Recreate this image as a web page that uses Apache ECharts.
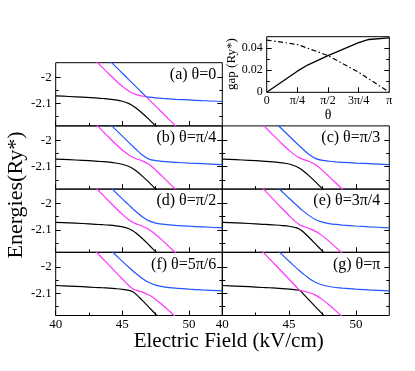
<!DOCTYPE html>
<html><head><meta charset="utf-8">
<script src="https://cdn.jsdelivr.net/npm/echarts@6/dist/echarts.min.js"></script>
<style>html,body{margin:0;padding:0;background:#fff}#c{width:415px;height:371px}</style>
</head><body><div id="c"></div>
<script>
// ---------- data ----------
const fieldTicks = [40, 45, 50];
const fieldMinorTicks = [42.5, 47.5];
const energyTicks = [-2.1, -2];
const energyMinorTicks = [-2.15, -2.05];
const panelTitles = ['(a) θ=0', '(b) θ=π/4', '(c) θ=π/3', '(d) θ=π/2', '(e) θ=3π/4', '(f) θ=5π/6', '(g) θ=π'];

const blackA = [[40,-2.071],[41,-2.0733],[42,-2.0757],[43,-2.0786],[43.5,-2.0809],[44,-2.0832],[44.5,-2.0864],[45,-2.0915],[45.5,-2.1006],[45.75,-2.1075],[46,-2.116],[46.5,-2.1369],[47,-2.1604],[47.5,-2.1853],[48,-2.2107]];
const blackB = [[40,-2.071],[41,-2.0733],[42,-2.0757],[43,-2.0786],[43.5,-2.0806],[44,-2.0828],[44.5,-2.0858],[45,-2.0905],[45.5,-2.0992],[45.75,-2.1059],[46,-2.1145],[46.5,-2.1356],[47,-2.1594],[47.5,-2.1845],[48,-2.209]];
const blackC = [[40,-2.071],[41,-2.0733],[42,-2.0757],[43,-2.0786],[43.5,-2.0804],[44,-2.0825],[44.5,-2.0853],[45,-2.0898],[45.5,-2.0981],[45.75,-2.1046],[46,-2.1134],[46.5,-2.1346],[47,-2.1587],[47.5,-2.1839],[48,-2.2085]];
const blackD = [[40,-2.071],[41,-2.0733],[42,-2.0757],[43,-2.0786],[43.5,-2.0802],[44,-2.082],[44.5,-2.0845],[45,-2.0883],[45.5,-2.0957],[45.75,-2.102],[46,-2.1107],[46.5,-2.1326],[47,-2.1572],[47.5,-2.1827],[48,-2.208]];
const blackE = [[40,-2.071],[41,-2.0733],[42,-2.0757],[43,-2.0786],[43.5,-2.0799],[44,-2.0814],[44.5,-2.0834],[45,-2.0861],[45.5,-2.091],[45.75,-2.0962],[46,-2.1051],[46.5,-2.1289],[47,-2.1546],[47.5,-2.1807],[48,-2.207]];
const blackF = [[40,-2.071],[41,-2.0733],[42,-2.0757],[43,-2.0786],[43.5,-2.0797],[44,-2.0813],[44.5,-2.0832],[45,-2.0856],[45.5,-2.0894],[45.75,-2.0938],[46,-2.1029],[46.5,-2.1278],[47,-2.1539],[47.5,-2.1802],[48,-2.2065]];
const blackG = [[40,-2.071],[41,-2.0733],[42,-2.0757],[43,-2.0786],[43.5,-2.0796],[44,-2.0811],[44.5,-2.0829],[45,-2.085],[45.5,-2.0877],[45.8,-2.0897],[46,-2.1003],[46.5,-2.1268],[47,-2.1533],[47.5,-2.1798],[48,-2.2063]];

const magentaA = [[42.5,-1.9115],[43,-1.9373],[43.5,-1.9629],[44,-1.9881],[44.5,-2.0124],[45,-2.0348],[45.5,-2.0532],[45.75,-2.06],[46,-2.0652],[46.5,-2.0719],[46.78,-2.074],[47,-2.085],[47.5,-2.11],[48,-2.135],[48.5,-2.16],[49,-2.185],[49.5,-2.21]];
const magentaB = [[42.5,-1.9118],[43,-1.9378],[43.5,-1.9637],[44,-1.9892],[44.5,-2.0138],[45,-2.0368],[45.5,-2.056],[45.75,-2.0633],[46,-2.0689],[46.5,-2.0777],[47,-2.0909],[47.5,-2.1125],[48,-2.1366],[48.5,-2.1611],[49,-2.1859],[49.5,-2.2109]];
const magentaC = [[42.5,-1.9122],[43,-1.9383],[43.5,-1.9642],[44,-1.9898],[44.5,-2.0147],[45,-2.0381],[45.5,-2.0579],[45.75,-2.0655],[46,-2.0712],[46.5,-2.0804],[47,-2.0934],[47.5,-2.114],[48,-2.1375],[48.5,-2.1618],[49,-2.1864],[49.5,-2.2114]];
const magentaD = [[42.5,-1.913],[43,-1.9393],[43.5,-1.9653],[44,-1.9913],[44.5,-2.0167],[45,-2.041],[45.5,-2.0621],[45.75,-2.0702],[46,-2.0762],[46.5,-2.0859],[47,-2.0984],[47.5,-2.1172],[48,-2.1396],[48.5,-2.1634],[49,-2.1877],[49.5,-2.2125]];
const magentaE = [[42.5,-1.9142],[43,-1.9407],[43.5,-1.9671],[44,-1.9934],[44.5,-2.0196],[45,-2.0454],[45.5,-2.0696],[45.75,-2.079],[46,-2.0855],[46.5,-2.0942],[47,-2.1056],[47.5,-2.1226],[48,-2.1434],[48.5,-2.1662],[49,-2.1899],[49.5,-2.2145]];
const magentaF = [[42.5,-1.9145],[43,-1.941],[43.5,-1.9675],[44,-1.9939],[44.5,-2.0203],[45,-2.0464],[45.5,-2.0718],[45.75,-2.0822],[46,-2.0887],[46.5,-2.0964],[47,-2.1074],[47.5,-2.1239],[48,-2.1444],[48.5,-2.167],[49,-2.1905],[49.5,-2.215]];
const magentaG = [[42.5,-1.9148],[43,-1.9413],[43.5,-1.9678],[44,-1.9943],[44.5,-2.0208],[45,-2.0473],[45.5,-2.0738],[45.8,-2.0897],[46,-2.0916],[46.5,-2.0978],[47,-2.1085],[47.5,-2.1247],[48,-2.145],[48.5,-2.1674],[49,-2.1908],[49.5,-2.2153]];

const blueA = [[43.5,-1.91],[44,-1.935],[44.5,-1.96],[45,-1.985],[45.5,-2.01],[46,-2.035],[46.5,-2.06],[46.78,-2.074],[47,-2.0759],[47.5,-2.0786],[48,-2.0806],[48.5,-2.0823],[49,-2.0839],[50,-2.0865],[51,-2.089],[52.5,-2.0924]];
const blueB = [[43.5,-1.9095],[44,-1.9344],[44.5,-1.9592],[45,-1.984],[45.5,-2.0086],[45.75,-2.0208],[46,-2.0329],[46.5,-2.0555],[47,-2.071],[47.5,-2.0768],[48,-2.0798],[48.5,-2.0818],[49,-2.0834],[50,-2.0863],[51,-2.0885],[52.5,-2.092]];
const blueC = [[43.5,-1.9092],[44,-1.934],[44.5,-1.9588],[45,-1.9834],[45.5,-2.0079],[45.75,-2.0199],[46,-2.0317],[46.5,-2.0538],[47,-2.0691],[47.5,-2.076],[48,-2.0793],[48.5,-2.0815],[49,-2.0832],[50,-2.0862],[51,-2.0885],[52.5,-2.092]];
const blueD = [[43.5,-1.9085],[44,-1.933],[44.5,-1.9577],[45,-1.9821],[45.5,-2.006],[45.75,-2.0178],[46,-2.0294],[46.5,-2.0503],[47,-2.0658],[47.5,-2.0739],[48,-2.0781],[48.5,-2.0808],[49,-2.0828],[50,-2.0859],[51,-2.0883],[52.5,-2.092]];
const blueE = [[43.5,-1.907],[44,-1.9315],[44.5,-1.9558],[45,-1.9799],[45.5,-2.0032],[45.75,-2.0148],[46,-2.0257],[46.5,-2.0457],[47,-2.0611],[47.5,-2.0705],[48,-2.0759],[48.5,-2.0793],[49,-2.0816],[50,-2.0852],[51,-2.0882],[52.5,-2.092]];
const blueF = [[43.5,-1.9066],[44,-1.931],[44.5,-1.9553],[45,-1.9793],[45.5,-2.0026],[45.75,-2.0139],[46,-2.0247],[46.5,-2.0446],[47,-2.06],[47.5,-2.0697],[48,-2.0753],[48.5,-2.0788],[49,-2.0813],[50,-2.085],[51,-2.088],[52.5,-2.0918]];
const blueG = [[43.5,-1.9064],[44,-1.9308],[44.5,-1.955],[45,-1.979],[45.5,-2.0023],[45.8,-2.0158],[46,-2.0244],[46.5,-2.0442],[47,-2.0595],[47.5,-2.0693],[48,-2.075],[48.5,-2.0786],[49,-2.0812],[50,-2.0849],[51,-2.0879],[52.5,-2.0917]];

// inset: theta in units of pi/4
const thetaQuarterPi = [0, 1, 1.3333, 2, 3, 3.3333, 4];
const thetaTickPos = [0, 1, 2, 3, 4];
const thetaTickLabels = ['0', 'π/4', 'π/2', '3π/4', 'π'];
const gapSolid = [0, 0.019, 0.0245, 0.033, 0.0447, 0.0475, 0.049];
const gapDashDot = [0.047, 0.043, 0.0397, 0.033, 0.018, 0.012, 0];
const gapTicks = [0.02, 0.04];
const gapLabelTicks = [0, 0.02, 0.04];
const gapMinorTicks = [0.01, 0.03];

// ---------- layout ----------
const FONT = '"Liberation Serif","Times New Roman",serif';
const colLeft = [55.7, 222.3], colWidth = [166.6, 167];
const rowTop = [62.7, 125.9, 189.1, 252.3], rowH = 63.2;
const layout = [[0,0],[1,0],[1,1],[2,0],[2,1],[3,0],[3,1]];
const curves = [[blackA,magentaA,blueA],[blackB,magentaB,blueB],[blackC,magentaC,blueC],
  [blackD,magentaD,blueD],[blackE,magentaE,blueE],[blackF,magentaF,blueF],[blackG,magentaG,blueG]];
const colors = ['#000000', '#ff33ff', '#2255ff'];

const grids = [], xAxes = [], yAxes = [], series = [], texts = [];

function xAx(g, min, max, ticks, len, labelVals, showLabels, fmt, fs) {
  return {type:'value', gridIndex:g, position:'bottom', min:min, max:max,
    axisLine:{show:false}, splitLine:{show:false},
    axisTick:{show:true, inside:true, length:len, customValues:ticks, lineStyle:{color:'#000', width:1}},
    axisLabel:{show:showLabels, customValues:labelVals, margin:3, color:'#000', fontSize:fs, fontFamily:FONT, formatter:fmt}};
}
function yAx(g, pos, min, max, ticks, len, labelVals, showLabels, fs) {
  return {type:'value', gridIndex:g, position:pos, min:min, max:max,
    axisLine:{show:false}, splitLine:{show:false},
    axisTick:{show:true, inside:true, length:len, customValues:ticks, lineStyle:{color:'#000', width:1}},
    axisLabel:{show:showLabels, customValues:labelVals, margin:4, color:'#000', fontSize:fs, fontFamily:FONT}};
}

layout.forEach(([r, c], i) => {
  grids.push({left:colLeft[c], top:rowTop[r], width:colWidth[c], height:rowH, show:true,
    borderColor:'#000', borderWidth:1, backgroundColor:'transparent'});
  const xb = xAxes.length;
  xAxes.push(xAx(i, 40, 52.5, fieldTicks, 5, fieldTicks, r === 3, undefined, 13));
  xAxes.push(xAx(i, 40, 52.5, fieldMinorTicks, 3, fieldMinorTicks, false, undefined, 13));
  const yb = yAxes.length;
  yAxes.push(yAx(i, 'left', -2.185, -1.945, energyTicks, 5, energyTicks, c === 0, 13));
  yAxes.push(yAx(i, 'left', -2.185, -1.945, energyMinorTicks, 3, energyMinorTicks, false, 13));
  yAxes.push(yAx(i, 'right', -2.185, -1.945, energyTicks, 5, energyTicks, false, 13));
  yAxes.push(yAx(i, 'right', -2.185, -1.945, energyMinorTicks, 3, energyMinorTicks, false, 13));
  curves[i].forEach((d, k) => series.push({type:'line', xAxisIndex:xb, yAxisIndex:yb, data:d,
    symbol:'none', showSymbol:false, smooth:0.3, clip:true, silent:true,
    lineStyle:{color:colors[k], width:1.2}}));
  texts.push({type:'text', x: colLeft[c] + colWidth[c] - (c ? 9 : 6), y: rowTop[r] + 12,
    style:{text:panelTitles[i], fill:'#000', font:'16px ' + FONT,
      textAlign:'right', align:'right', textVerticalAlign:'middle', verticalAlign:'middle'}});
});

// inset
const ig = grids.length;
grids.push({left:266.7, top:36.7, width:122.6, height:55.6, show:true, borderColor:'#000', borderWidth:1, backgroundColor:'transparent'});
const ixb = xAxes.length;
xAxes.push(xAx(ig, 0, 4, [1,2,3], 5, thetaTickPos, true, v => thetaTickLabels[Math.round(v)], 12));
const iyb = yAxes.length;
yAxes.push(yAx(ig, 'left', 0, 0.05, gapTicks, 5, gapLabelTicks, true, 12));
yAxes.push(yAx(ig, 'left', 0, 0.05, gapMinorTicks, 3, gapMinorTicks, false, 12));
yAxes.push(yAx(ig, 'right', 0, 0.05, gapTicks, 5, gapTicks, false, 12));
yAxes.push(yAx(ig, 'right', 0, 0.05, gapMinorTicks, 3, gapMinorTicks, false, 12));
series.push({type:'line', xAxisIndex:ixb, yAxisIndex:iyb, symbol:'none', silent:true,
  data: thetaQuarterPi.map((t, j) => [t, gapSolid[j]]), lineStyle:{color:'#000', width:1.3}});
series.push({type:'line', xAxisIndex:ixb, yAxisIndex:iyb, symbol:'none', silent:true,
  data: thetaQuarterPi.map((t, j) => [t, gapDashDot[j]]), lineStyle:{color:'#000', width:1.2, type:[5,2.5,1.5,2.5]}});

texts.push({type:'text', x:16, y:195, rotation:Math.PI/2,
  style:{text:'Energies(Ry*)', fill:'#000', font:'22px ' + FONT, textAlign:'center', align:'center', textVerticalAlign:'middle', verticalAlign:'middle'}});
texts.push({type:'text', x:228.7, y:341,
  style:{text:'Electric Field (kV/cm)', fill:'#000', font:'21px ' + FONT, textAlign:'center', align:'center', textVerticalAlign:'middle', verticalAlign:'middle'}});
texts.push({type:'text', x:232, y:64, rotation:Math.PI/2,
  style:{text:'gap (Ry*)', fill:'#000', font:'13px ' + FONT, textAlign:'center', align:'center', textVerticalAlign:'middle', verticalAlign:'middle'}});
texts.push({type:'text', x:328, y:115,
  style:{text:'θ', fill:'#000', font:'14px ' + FONT, textAlign:'center', align:'center', textVerticalAlign:'middle', verticalAlign:'middle'}});

const chart = echarts.init(document.getElementById('c'), null, {renderer:'canvas', width:415, height:371});
chart.setOption({
  animation:false,
  backgroundColor:'#fff',
  grid:grids, xAxis:xAxes, yAxis:yAxes, series:series,
  graphic:{elements:texts}
});
</script>
</body></html>
